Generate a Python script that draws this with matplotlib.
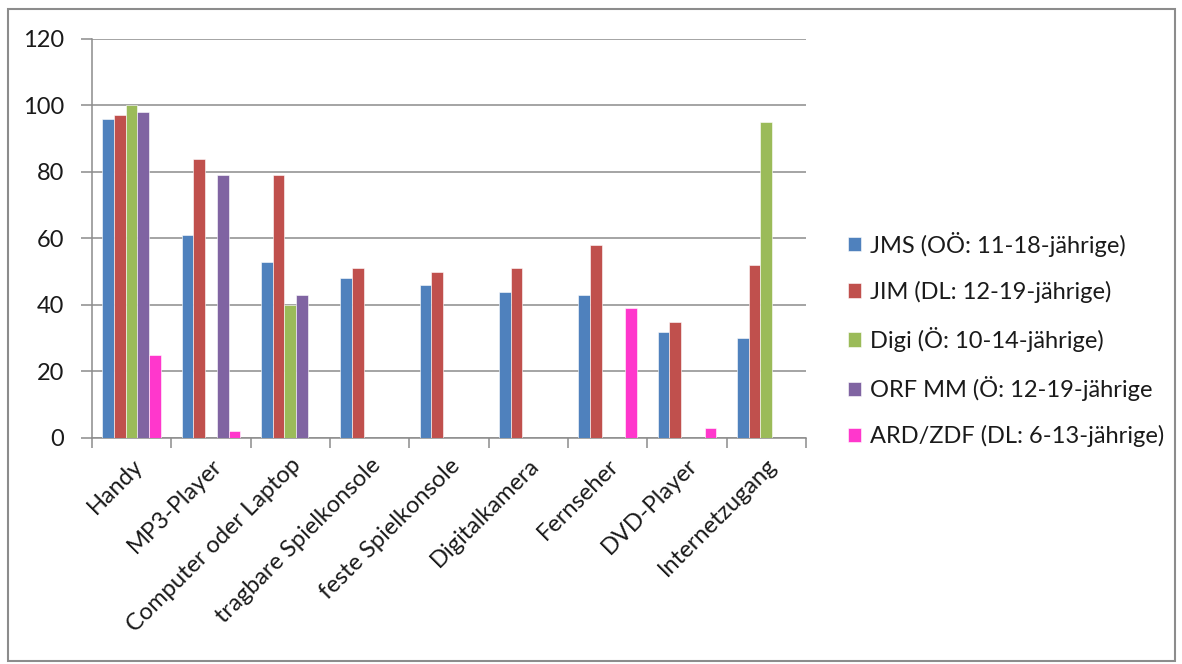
import matplotlib.pyplot as plt
import numpy as np
from matplotlib.patches import Rectangle

nan = np.nan

categories = ["Handy", "MP3-Player", "Computer oder Laptop", "tragbare Spielkonsole",
              "feste Spielkonsole", "Digitalkamera", "Fernseher", "DVD-Player", "Internetzugang"]

jms = [96, 61, 53, 48, 46, 44, 43, 32, 30]
jim = [97, 84, 79, 51, 50, 51, 58, 35, 52]
digi = [100, nan, 40, nan, nan, nan, nan, nan, 95]
orf = [98, 79, 43, nan, nan, nan, nan, nan, nan]
ard = [25, 2, nan, nan, nan, nan, 39, 3, nan]

series = [
    ("JMS (OÖ: 11-18-jährige)", jms, "#4F81BD"),
    ("JIM (DL: 12-19-jährige)", jim, "#C0504D"),
    ("Digi (Ö: 10-14-jährige)", digi, "#9BBB59"),
    ("ORF MM (Ö: 12-19-jährige", orf, "#8064A2"),
    ("ARD/ZDF (DL: 6-13-jährige)", ard, "#FF37CC"),
]

plt.rcParams["font.family"] = ["Lato", "DejaVu Sans"]
plt.rcParams["text.color"] = "#1a1a1a"
plt.rcParams["xtick.labelcolor"] = "#1a1a1a"
plt.rcParams["ytick.labelcolor"] = "#1a1a1a"

fig = plt.figure(figsize=(11.82, 6.64), dpi=100)
# outer chart frame
fig.patches.append(Rectangle((8 / 1182, 3 / 664), 1167 / 1182, 652 / 664, transform=fig.transFigure,
                             fill=False, edgecolor="#8c8c8c", linewidth=1.5))

ax = fig.add_axes([0.0778, 0.3404, 0.604, 0.601])

x = np.arange(len(categories))
width = 0.148
for i, (label, vals, color) in enumerate(series):
    ax.bar(x + (i - 2) * width, vals, width, color=color, edgecolor="white", linewidth=0.4,
           label=label, zorder=3)

ax.set_xlim(-0.5, len(categories) - 0.5)
ax.set_ylim(0, 120)
ax.set_yticks(range(0, 121, 20))
ax.grid(axis="y", color="#8c8c8c", linewidth=1.1, zorder=0)

for side in ["top", "right"]:
    ax.spines[side].set_visible(False)
for side in ["left", "bottom"]:
    ax.spines[side].set_color("#8c8c8c")
    ax.spines[side].set_linewidth(1.1)

ax.set_xticks(x)
ax.set_xticklabels(categories, rotation=45, ha="right", rotation_mode="anchor", fontsize=17)
ax.tick_params(axis="x", length=0, pad=12)
ax.set_xticks(np.arange(len(categories) + 1) - 0.5, minor=True)
ax.tick_params(axis="x", which="minor", length=7, color="#8c8c8c", width=1.1)
ax.tick_params(axis="y", length=8, color="#8c8c8c", width=1.1, labelsize=17, pad=12)

ax.legend(loc="center left", bbox_to_anchor=(1.059, 0.247), frameon=False,
          fontsize=17, borderpad=0, borderaxespad=0,
          handlelength=0.55, handleheight=0.55, handletextpad=0.4, labelspacing=1.02)

fig.savefig("out.png", dpi=100)
